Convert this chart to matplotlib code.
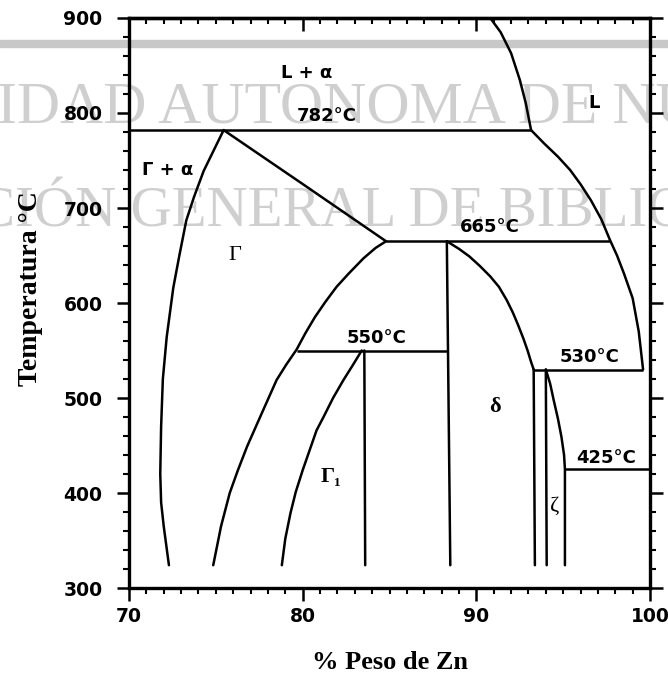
import matplotlib.pyplot as plt
from matplotlib.ticker import MultipleLocator, NullFormatter

# phase boundaries (wt% Zn, temperature in C)
liq_x = [90.8, 91.4, 92.0, 92.5, 92.85, 93.15]
liq_t = [900, 885, 863, 835, 810, 782]
liq2_x = [93.15, 93.9, 94.7, 95.4, 96.0, 96.6, 97.2, 97.7, 98.1, 98.5, 99.0, 99.35, 99.6]
liq2_t = [782, 768, 754, 740, 725, 708, 688, 666, 650, 631, 605, 570, 530]

gam_left_x = [75.45, 74.86, 74.3, 73.75, 73.3, 72.9, 72.55, 72.17, 71.95, 71.85, 71.8, 71.85, 72.0, 72.3]
gam_left_t = [782, 760, 739, 712, 687, 650, 616, 564, 520, 470, 420, 390, 365, 324]
gam_top_x = [75.45, 80.1, 84.8]
gam_top_t = [782, 724, 665]
gam_right_x = [84.8, 84.2, 83.5, 82.65, 81.95, 81.3, 80.7, 80.15, 79.65, 79.05, 78.5, 77.55,
               76.8, 76.25, 75.8, 75.3, 74.85]
gam_right_t = [665, 658, 647, 631, 617, 601, 585, 568, 551, 535, 519, 480,
               449, 423, 400, 365, 324]

g1_left_x = [83.4, 82.9, 82.35, 81.75, 81.2, 80.8, 80.4, 80.0, 79.6, 79.3, 79.0, 78.8]
g1_left_t = [550, 535, 519, 500, 480, 466, 445, 424, 401, 379, 352, 324]
g1_right_x = [83.55, 83.6]
g1_right_t = [550, 324]

delta_left_x = [88.3, 88.5]
delta_left_t = [665, 324]
delta_right_x = [88.3, 89.0, 89.6, 90.2, 90.8, 91.3, 91.75, 92.1, 92.4, 92.7, 92.95, 93.15, 93.3]
delta_right_t = [665, 657, 649, 639, 628, 617, 603, 590, 577, 563, 550, 538, 530]
delta_low_x = [93.3, 93.37]
delta_low_t = [530, 324]

zeta_left_x = [94.0, 94.05]
zeta_left_t = [530, 324]
zeta_right_x = [94.0, 94.25, 94.45, 94.7, 94.9, 95.05, 95.1, 95.1]
zeta_right_t = [530, 515, 498, 478, 459, 440, 425, 324]

iso_t = [782, 665, 550, 530, 425]
iso_x0 = [70.0, 84.8, 79.65, 93.3, 95.1]
iso_x1 = [93.15, 97.7, 88.3, 99.6, 100.0]

labels = ["L + α", "L", "782°C", "Γ + α", "665°C", "550°C", "530°C", "425°C"]
label_x = [80.25, 96.8, 81.4, 72.2, 90.8, 84.26, 96.54, 97.5]
label_t = [842, 810, 797, 740, 680, 563, 543, 437]
greek = ["Γ", "Γ₁", "δ", "ζ"]
greek_x = [76.1, 81.63, 91.07, 94.52]
greek_t = [650, 417, 491, 386]
greek_bold = ["normal", "bold", "bold", "normal"]

fig = plt.figure(figsize=(6.68, 6.79), dpi=100)

# scanned library watermark behind the chart
fig.text(-0.005, 0.819, "IDAD AUTONOMA DE NU", family="Liberation Serif", fontsize=43,
         color="#cfcfcf", va="baseline", zorder=0)
fig.text(-0.035, 0.666, "CIÓN GENERAL DE BIBLIO", family="Liberation Serif", fontsize=41,
         color="#cfcfcf", va="baseline", zorder=0)
fig.patches.append(plt.Rectangle((0, 0.931), 1, 0.010, transform=fig.transFigure,
                                 color="#c8c8c8", zorder=0))

ax = fig.add_axes([0.1931, 0.134, 0.780, 0.8395])
ax.set_zorder(1)
ax.patch.set_alpha(0)

lw = 1.8
for xs, ts in [(liq_x, liq_t), (liq2_x, liq2_t), (gam_left_x, gam_left_t), (gam_top_x, gam_top_t),
               (gam_right_x, gam_right_t), (g1_left_x, g1_left_t), (g1_right_x, g1_right_t),
               (delta_left_x, delta_left_t), (delta_right_x, delta_right_t), (delta_low_x, delta_low_t),
               (zeta_left_x, zeta_left_t), (zeta_right_x, zeta_right_t)]:
    ax.plot(xs, ts, color="black", lw=lw, solid_capstyle="round", solid_joinstyle="round")
ax.hlines(iso_t, iso_x0, iso_x1, color="black", lw=lw)

for s, x, t in zip(labels, label_x, label_t):
    ax.text(x, t, s, ha="center", va="center", fontsize=13, family="DejaVu Sans", weight="bold")
for s, x, t, w in zip(greek, greek_x, greek_t, greek_bold):
    ax.text(x, t, s, ha="center", va="center", fontsize=16, weight=w,
            family=["Liberation Serif", "DejaVu Serif"])

ax.set_xlim(70, 100)
ax.set_ylim(300, 900)
ax.set_xticks([70, 80, 90, 100])
ax.set_yticks([300, 400, 500, 600, 700, 800, 900])
ax.xaxis.set_minor_locator(MultipleLocator(1))
ax.yaxis.set_minor_locator(MultipleLocator(20))
ax.tick_params(which="major", direction="out", length=9, width=1.8, right=True,
               labelsize=13.5, pad=5)
ax.tick_params(axis="y", which="major", pad=10)
ax.tick_params(which="minor", direction="out", length=4.5, width=1.5, right=True)
for lab in ax.get_xticklabels() + ax.get_yticklabels():
    lab.set_family("DejaVu Sans")
    lab.set_weight("bold")

# top ticks point into the plot in the scan
top = ax.secondary_xaxis("top")
top.set_xticks([70, 80, 90, 100])
top.xaxis.set_minor_locator(MultipleLocator(1))
top.xaxis.set_major_formatter(NullFormatter())
top.tick_params(which="major", direction="in", length=9, width=1.8)
top.tick_params(which="minor", direction="in", length=4.5, width=1.5)
top.spines["top"].set_linewidth(2.4)

for sp in ax.spines.values():
    sp.set_linewidth(2.4)

ax.set_xlabel("% Peso de Zn", family="Liberation Serif", weight="bold", fontsize=19, labelpad=18)
ax.set_ylabel("Temperatura °C", family="Liberation Serif", weight="bold", fontsize=20)
ax.yaxis.set_label_coords(-0.165, 0.525)

fig.savefig("out.png", dpi=100)
